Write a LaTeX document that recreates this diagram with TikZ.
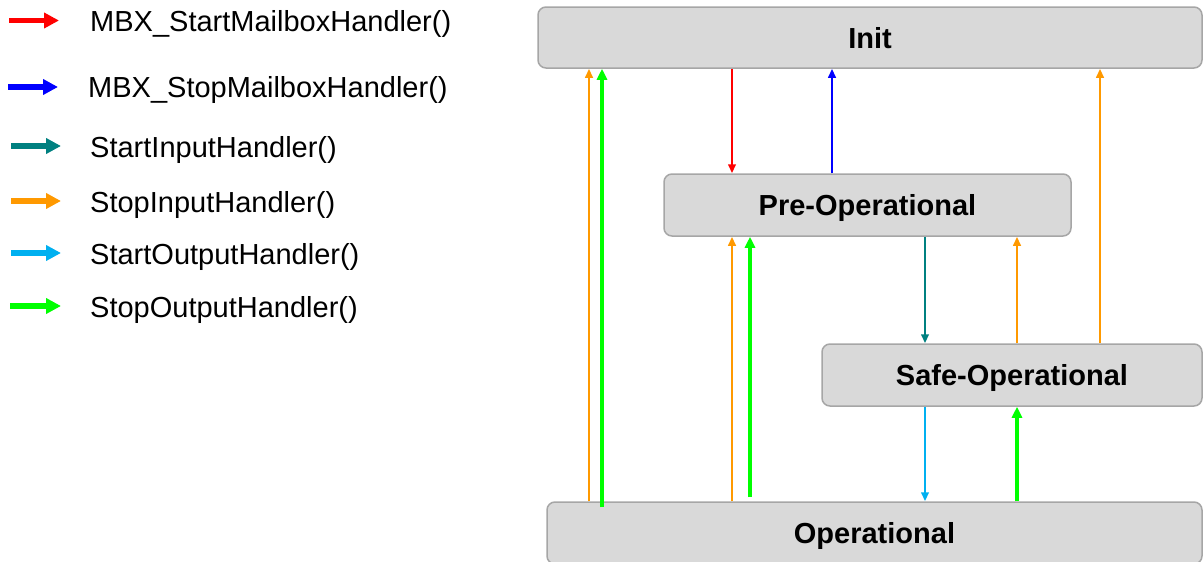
\documentclass[tikz,border=0pt]{standalone}
\usepackage{fontspec}
\setmainfont{Liberation Sans}
\usetikzlibrary{arrows.meta}
\definecolor{cred}{HTML}{FF0000}
\definecolor{cblue}{HTML}{0000FF}
\definecolor{cteal}{HTML}{008080}
\definecolor{corange}{HTML}{FF9900}
\definecolor{ccyan}{HTML}{00B0F0}
\definecolor{cgreen}{HTML}{00FF00}
\definecolor{boxfill}{HTML}{D9D9D9}
\definecolor{boxline}{HTML}{A6A6A6}
\tikzset{
  statebox/.style={draw=boxline, fill=boxfill, line width=1.5pt, rounded corners=8pt,
    font=\fontsize{29}{34}\selectfont\bfseries, inner sep=0pt, text height=21pt, text depth=0pt},
  thinarr/.style={line width=2.5pt, -{Triangle[length=9pt,width=7.5pt]}},
  thickarr/.style={line width=4pt, -{Triangle[length=11pt,width=10pt]}},
  legarr/.style={line width=5.5pt, -{Triangle[length=15pt,width=15pt]}},
  legtext/.style={anchor=base west, inner sep=0pt, font=\fontsize{29}{34}\selectfont},
}
\begin{document}
\begin{tikzpicture}[x=1pt,y=-1pt]
\useasboundingbox (0,0) rectangle (1203,562);
\begin{scope}
\clip (0,0) rectangle (1203,562);
% state boxes
\node[statebox, minimum width=664pt, minimum height=61pt] (init) at (870,37.5) {Init};
\node[statebox, minimum width=407pt, minimum height=62pt] (preop) at (867.5,205) {Pre-Operational};
\node[statebox, minimum width=380pt, minimum height=62pt] (safeop) at (1012,375) {Safe-Operational};
\node[statebox, minimum width=655pt, minimum height=62pt] (op) at (874.5,533) {Operational};

% x positions
\coordinate (xa) at (589,0);
\coordinate (xb) at (602,0);
\coordinate (xc) at (732,0);
\coordinate (xd) at (750,0);
\coordinate (xe) at (832,0);
\coordinate (xf) at (925,0);
\coordinate (xg) at (1017,0);
\coordinate (xh) at (1100,0);

% transitions
\draw[thinarr, corange] (op.north -| xa) -- (init.south -| xa);
\draw[thickarr, cgreen] ([yshift=-6pt]op.north -| xb) -- (init.south -| xb);
\draw[thinarr, cred] (init.south -| xc) -- (preop.north -| xc);
\draw[thinarr, cblue] (preop.north -| xe) -- (init.south -| xe);
\draw[thinarr, corange] (safeop.north -| xh) -- (init.south -| xh);
\draw[thinarr, corange] (op.north -| xc) -- (preop.south -| xc);
\draw[thickarr, cgreen] ([yshift=4pt]op.north -| xd) -- (preop.south -| xd);
\draw[thinarr, cteal] (preop.south -| xf) -- (safeop.north -| xf);
\draw[thinarr, corange] (safeop.north -| xg) -- (preop.south -| xg);
\draw[thinarr, ccyan] (safeop.south -| xf) -- (op.north -| xf);
\draw[thickarr, cgreen] (op.north -| xg) -- (safeop.south -| xg);
\end{scope}

% legend
\coordinate (l1a) at (9,20.5);  \coordinate (l1b) at (59,20.5);
\coordinate (l2a) at (8,87);   \coordinate (l2b) at (58,87);
\coordinate (l3a) at (11,146); \coordinate (l3b) at (61,146);
\coordinate (l4a) at (11,201); \coordinate (l4b) at (61,201);
\coordinate (l5a) at (11,253); \coordinate (l5b) at (61,253);
\coordinate (l6a) at (10,306); \coordinate (l6b) at (61,306);
\draw[legarr, cred] (l1a) -- (l1b);
\draw[legarr, cblue] (l2a) -- (l2b);
\draw[legarr, cteal] (l3a) -- (l3b);
\draw[legarr, corange] (l4a) -- (l4b);
\draw[legarr, ccyan] (l5a) -- (l5b);
\draw[legarr, cgreen] (l6a) -- (l6b);
\node[legtext] (t1) at (90,31) {MBX\_StartMailboxHandler()};
\node[legtext] (t2) at (88,97) {MBX\_StopMailboxHandler()};
\node[legtext] (t3) at (90,157) {StartInputHandler()};
\node[legtext] (t4) at (90,212) {StopInputHandler()};
\node[legtext] (t5) at (90,264) {StartOutputHandler()};
\node[legtext] (t6) at (90,317) {StopOutputHandler()};
\end{tikzpicture}
\end{document}
